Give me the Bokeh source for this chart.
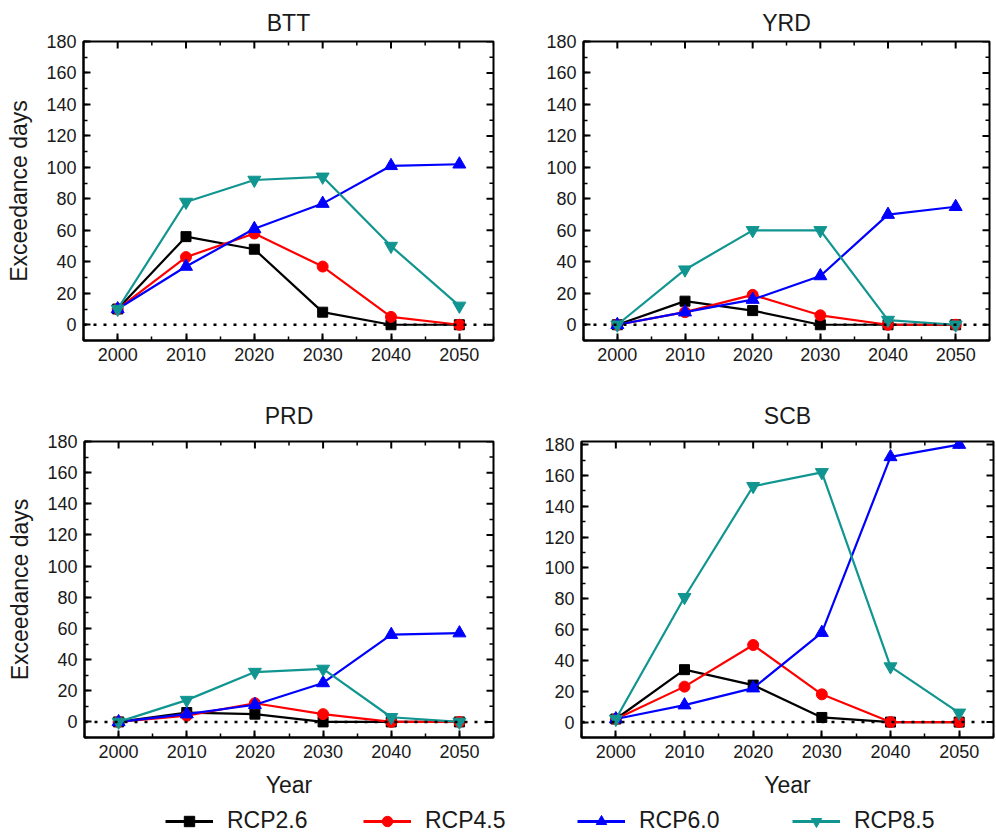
import math
from bokeh.plotting import figure
from bokeh.layouts import column, row
from bokeh.models import (Range1d, SingleIntervalTicker, Span,
                          Legend, LegendItem)
from bokeh.embed import file_html
from bokeh.resources import INLINE

# ---- data -------------------------------------------------------------
years = [2000, 2010, 2020, 2030, 2040, 2050]
scenarios = ["RCP2.6", "RCP4.5", "RCP6.0", "RCP8.5"]
regions = ["BTT", "YRD", "PRD", "SCB"]

btt_rcp26 = [10, 56, 48, 8, 0, 0]
btt_rcp45 = [10, 43, 58, 37, 5, 0]
btt_rcp60 = [10, 37, 61, 77, 101, 102]
btt_rcp85 = [10, 78, 92, 94, 50, 12]

yrd_rcp26 = [0, 15, 9, 0, 0, 0]
yrd_rcp45 = [0, 8, 19, 6, 0, 0]
yrd_rcp60 = [0, 8, 16, 31, 70, 75]
yrd_rcp85 = [0, 35, 60, 60, 3, 0]

prd_rcp26 = [0, 6, 5, 0, 0, 0]
prd_rcp45 = [0, 4, 12, 5, 0, 0]
prd_rcp60 = [0, 5, 11, 25, 56, 57]
prd_rcp85 = [0, 14, 32, 34, 3, 0]

scb_rcp26 = [2, 34, 24, 3, 0, 0]
scb_rcp45 = [2, 23, 50, 18, 0, 0]
scb_rcp60 = [2, 11, 22, 58, 172, 180]
scb_rcp85 = [2, 81, 153, 162, 36, 6]

series = {
    "BTT": [btt_rcp26, btt_rcp45, btt_rcp60, btt_rcp85],
    "YRD": [yrd_rcp26, yrd_rcp45, yrd_rcp60, yrd_rcp85],
    "PRD": [prd_rcp26, prd_rcp45, prd_rcp60, prd_rcp85],
    "SCB": [scb_rcp26, scb_rcp45, scb_rcp60, scb_rcp85],
}

# ---- styling ----------------------------------------------------------
FONT = "Liberation Sans"
TXT = "#1a1a1a"
colors = ["#000000", "#ff0000", "#0000ff", "#119590"]
markers = ["square", "circle", "triangle", "inverted_triangle"]
msizes = [10, 11, 13, 13]

X0, X1 = 1995, 2055
Y0 = -10


def style_axis(ax):
    ax.axis_line_color = "black"
    ax.axis_line_width = 2
    ax.major_tick_in = 7
    ax.major_tick_out = 0
    ax.minor_tick_in = 4
    ax.minor_tick_out = 0
    ax.major_tick_line_width = 2
    ax.minor_tick_line_width = 1.5
    ax.major_tick_line_color = "black"
    ax.minor_tick_line_color = "black"
    ax.major_label_text_font = FONT
    ax.major_label_text_font_size = "18px"
    ax.major_label_text_color = TXT
    ax.major_label_standoff = 7
    ax.axis_label_text_font = FONT
    ax.axis_label_text_font_size = "23px"
    ax.axis_label_text_font_style = "normal"
    ax.axis_label_text_color = TXT
    ax.axis_label_standoff = 11


def mirror_ticks(p, y_end):
    """Inward tick marks along the top and right frame edges.
    Dash markers centred on the edge are clipped by the frame,
    leaving only the inner half visible."""
    x_major = list(range(2000, X1 + 1, 10))
    x_minor = list(range(X0, X1 + 1, 10))
    y_major = list(range(0, 181, 20))
    y_minor = list(range(Y0, 181, 20))
    p.scatter(x_major, [y_end] * len(x_major), marker="dash", size=14,
              angle=math.pi / 2, line_color="black", line_width=2)
    p.scatter(x_minor, [y_end] * len(x_minor), marker="dash", size=8,
              angle=math.pi / 2, line_color="black", line_width=1.5)
    p.scatter([X1] * len(y_major), y_major, marker="dash", size=14,
              line_color="black", line_width=2)
    p.scatter([X1] * len(y_minor), y_minor, marker="dash", size=8,
              line_color="black", line_width=1.5)


def make_panel(name, width, height, left, right, top, bottom, y_end,
               ylabel, xlabel, title_standoff, title_offset=0):
    p = figure(width=width, height=height,
               x_range=Range1d(X0, X1), y_range=Range1d(Y0, y_end),
               output_backend="svg", toolbar_location=None,
               min_border_left=left, min_border_right=right,
               min_border_top=top, min_border_bottom=bottom,
               title=name)
    p.title.text_font = FONT
    p.title.text_font_size = "23px"
    p.title.text_font_style = "normal"
    p.title.text_color = TXT
    p.title.align = "center"
    p.title.standoff = title_standoff
    p.title.offset = title_offset
    p.grid.visible = False
    p.outline_line_color = "black"
    p.outline_line_width = 2
    p.background_fill_color = "white"
    p.border_fill_color = "white"

    p.xaxis.ticker = SingleIntervalTicker(interval=10, num_minor_ticks=2)
    p.yaxis.ticker = SingleIntervalTicker(interval=20, num_minor_ticks=2)
    style_axis(p.xaxis[0])
    style_axis(p.yaxis[0])
    if ylabel:
        p.yaxis.axis_label = "Exceedance days"
    if xlabel:
        p.xaxis.axis_label = "Year"

    mirror_ticks(p, y_end)

    # zero reference line
    p.add_layout(Span(location=0, dimension="width", line_color="black",
                      line_width=2.5, line_dash="3 7"))

    for vals, c, m, s in zip(series[name], colors, markers, msizes):
        p.line(years, vals, line_color=c, line_width=2.2)
        p.scatter(years, vals, marker=m, size=s, fill_color=c, line_color=c)
    return p


p1 = make_panel("BTT", 498, 370, 83, 5, 40, 30, 180, True, False, 12, -14)
p2 = make_panel("YRD", 498, 370, 85, 7, 41, 26, 180, False, False, 12)
p3 = make_panel("PRD", 498, 430, 84, 5, 71, 59, 180, True, True, 25, -6)
p4 = make_panel("SCB", 498, 430, 83, 3, 70, 54, 182, False, True, 25)

# ---- shared legend strip ---------------------------------------------
leg = figure(width=996, height=37, x_range=Range1d(0, 1), y_range=Range1d(0, 1),
             output_backend="svg", toolbar_location=None,
             min_border=0, x_axis_location=None, y_axis_location=None)
leg.grid.visible = False
leg.outline_line_color = None
leg_x = [165, 363, 577, 792]
for lbl, c, m, s, lx in zip(scenarios, colors, markers, msizes, leg_x):
    # keyed renderers sit outside the visible range; only their legend glyphs show
    lr = leg.line([-5, -4], [-5, -4], line_color=c, line_width=3)
    sr = leg.scatter([-5], [-5], marker=m, size=s + 2, fill_color=c, line_color=c)
    lg = Legend(items=[LegendItem(label=lbl, renderers=[lr, sr])],
                location=(lx, 3), orientation="horizontal",
                padding=0, margin=0, spacing=0,
                glyph_width=48, glyph_height=26, label_standoff=14,
                label_text_font=FONT, label_text_font_size="23px",
                label_text_color=TXT,
                border_line_alpha=0, background_fill_alpha=0)
    leg.add_layout(lg, "center")

layout = column(row(p1, p2), row(p3, p4), leg)

with open("out.html", "w") as f:
    f.write(file_html(layout, INLINE))
